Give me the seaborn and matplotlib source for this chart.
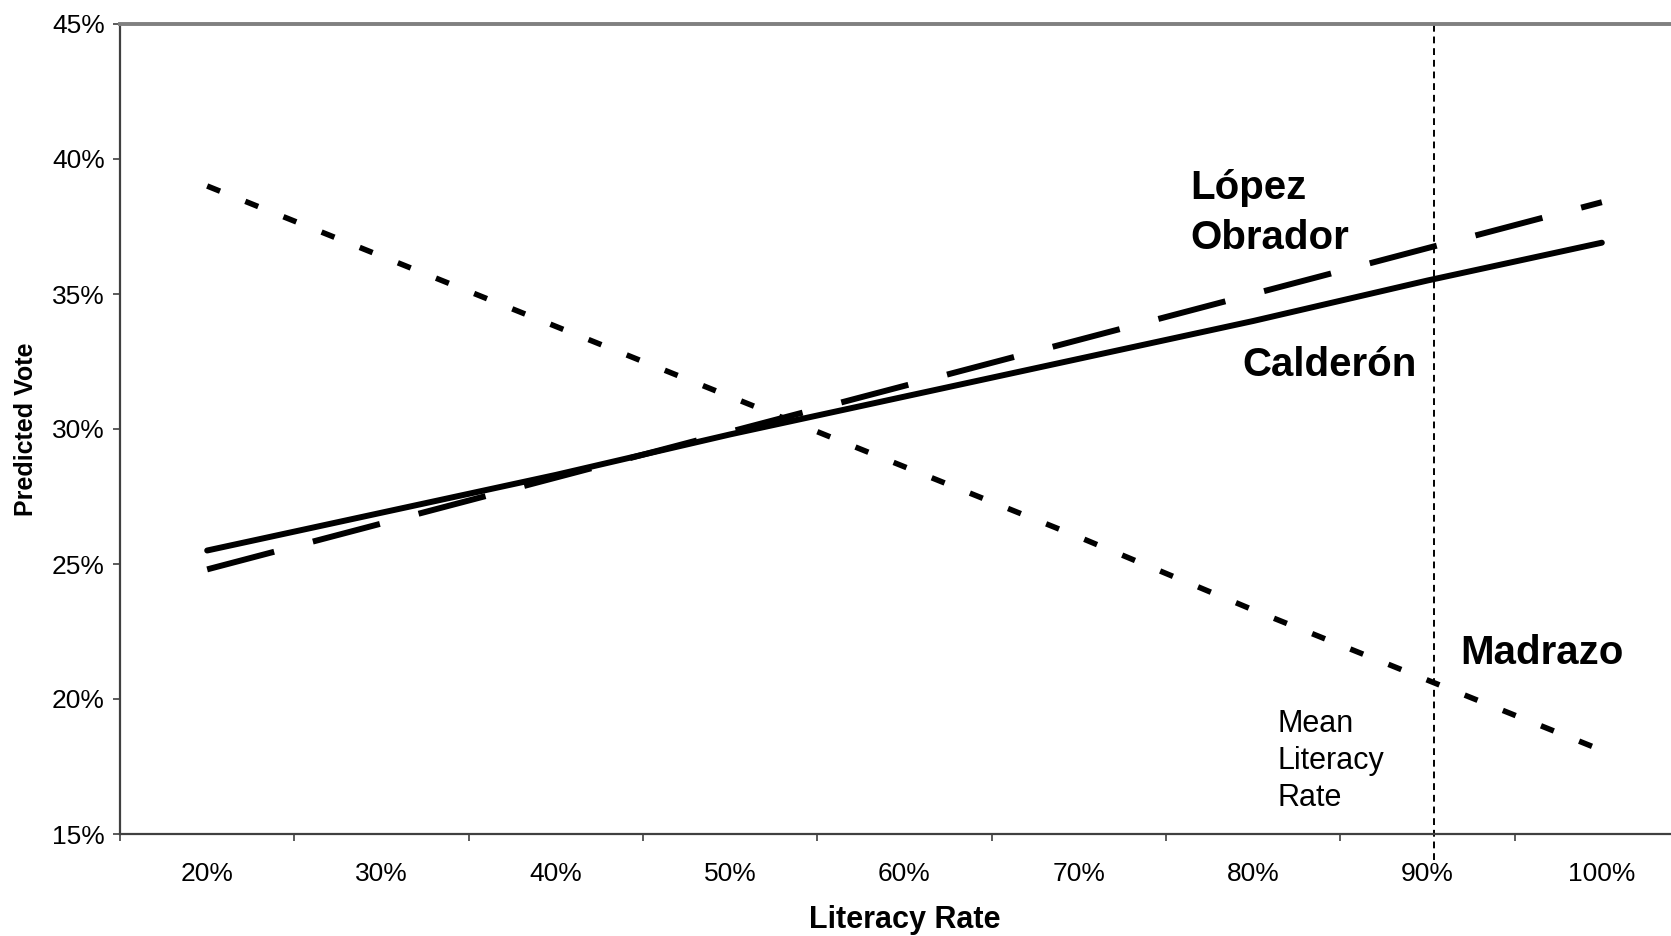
import seaborn as sns
import matplotlib.pyplot as plt
import numpy as np

# Data
literacy = [20, 30, 40, 50, 60, 70, 80, 90, 100]
calderon = [25.5, 26.9, 28.3, 29.8, 31.2, 32.6, 34.0, 35.5, 36.9]
lopez_obrador = [24.8, 26.5, 28.2, 29.9, 31.6, 33.3, 35.0, 36.7, 38.4]
madrazo = [39.0, 36.4, 33.8, 31.2, 28.6, 26.0, 23.3, 20.7, 18.1]
mean_literacy = 90.4

sns.set_theme(style="white")
plt.rcParams['font.family'] = ['Liberation Sans', 'DejaVu Sans']
plt.rcParams['text.color'] = 'black'
plt.rcParams['axes.labelcolor'] = 'black'

fig = plt.figure(figsize=(16.71, 9.36), dpi=100)
# plot area runs past the right edge, as in the original
ax = fig.add_axes([120 / 1671, 102 / 936, 1569 / 1671, 810 / 936])

pos = np.arange(len(literacy))

sns.lineplot(x=pos, y=calderon, ax=ax, color='black', lw=4.3,
             solid_capstyle='round')
sns.lineplot(x=pos, y=lopez_obrador, ax=ax, color='black', lw=4.3)
ax.lines[-1].set_dashes((11.6, 6.7))
sns.lineplot(x=pos, y=madrazo, ax=ax, color='black', lw=4.0)
ax.lines[-1].set_dashes((2.5, 4.9))

# mean literacy marker
xm = (mean_literacy - literacy[0]) / (literacy[1] - literacy[0])
ax.axvline(xm, ymin=-0.032, ymax=1, color='black', lw=1.4,
           dashes=(3.5, 2.5), clip_on=False)

ax.set_xlim(-0.5, len(literacy) - 0.5)
ax.set_ylim(15, 45)
ax.set_yticks(range(15, 46, 5))
ax.set_yticklabels([f'{v}%' for v in range(15, 46, 5)], fontsize=19)
ax.set_xticks(pos)
ax.set_xticklabels([f'{v}%' for v in literacy], fontsize=19)
ax.set_xticks(np.arange(-0.5, len(literacy)), minor=True)
ax.tick_params(axis='x', which='major', length=0, pad=20, labelcolor='black')
ax.tick_params(axis='x', which='minor', length=5, width=1.2,
               color='#404040', direction='out', bottom=True)
ax.tick_params(axis='y', length=5, width=1.2, color='#404040',
               direction='out', left=True, pad=6, labelcolor='black')

for s in ['left', 'bottom']:
    ax.spines[s].set_color('#404040')
    ax.spines[s].set_linewidth(1.6)
ax.spines['top'].set_color('#808080')
ax.spines['top'].set_linewidth(2.8)
ax.spines['right'].set_visible(False)

ax.set_xlabel('Literacy Rate', fontsize=22, fontweight='bold', labelpad=14)
ax.set_ylabel('Predicted Vote', fontsize=18, fontweight='bold', labelpad=10)

# labels
ax.text(5.64, 38.0, 'López\nObrador', fontsize=29, fontweight='bold',
        va='center', ha='left', linespacing=1.38)
ax.text(5.94, 32.36, 'Calderón', fontsize=29, fontweight='bold',
        va='center', ha='left')
ax.text(7.19, 21.7, 'Madrazo', fontsize=29, fontweight='bold',
        va='center', ha='left')
ax.text(6.14, 17.7, 'Mean\nLiteracy\nRate', fontsize=22,
        va='center', ha='left', linespacing=1.32)

plt.savefig('out.png', dpi=100)
plt.close()
